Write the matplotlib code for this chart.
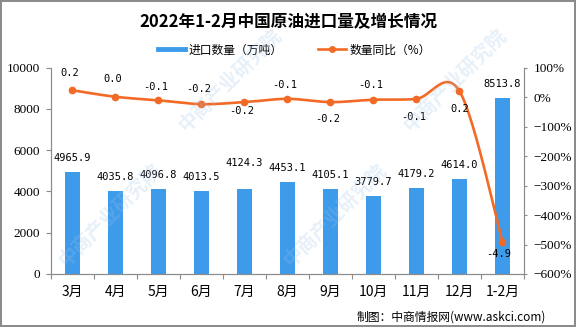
import numpy as np
import matplotlib.pyplot as plt
from matplotlib.lines import Line2D
from matplotlib.ticker import FuncFormatter

plt.rcParams['font.family'] = ['Noto Sans CJK SC', 'DejaVu Sans']

months = ['3月', '4月', '5月', '6月', '7月', '8月', '9月', '10月', '11月', '12月', '1-2月']
volume = [4965.9, 4035.8, 4096.8, 4013.5, 4124.3, 4453.1, 4105.1, 3779.7, 4179.2, 4614.0, 8513.8]
yoy = [0.23, 0.01, -0.11, -0.24, -0.17, -0.06, -0.17, -0.09, -0.06, 0.20, -4.90]

title = '2022年1-2月中国原油进口量及增长情况'
bar_name = '进口数量（万吨）'
line_name = '数量同比（%）'
source = '制图：中商情报网(www.askci.com)'

blue = '#3E9BEA'
orange = '#F26A26'
grey = '#8C8C8C'
PT = 72 / 100.  # px -> pt

# label offsets in px (layout only)
bar_dy = [14, 14, 14, 14, 25.5, 14, 14, 14, 14, 14, 14]
line_off = [(-3, -17), (-3, -18), (-3, -13), (-3, -15), (-3, 8.5), (-3, -13.5),
            (-3, 16.5), (-3, -14.5), (-3, 18.5), (0, 18), (-4, 12.5)]


def smooth(xv, yv, n=30):
    # catmull-rom, like excel's smoothed line
    p = np.column_stack([xv, yv]).astype(float)
    p = np.vstack([p[0], p, p[-1]])
    t = np.linspace(0, 1, n)[:, None]
    out = []
    for i in range(1, len(p) - 2):
        p0, p1, p2, p3 = p[i - 1], p[i], p[i + 1], p[i + 2]
        seg = 0.5 * (2 * p1 + (-p0 + p2) * t + (2 * p0 - 5 * p1 + 4 * p2 - p3) * t ** 2
                     + (-p0 + 3 * p1 - 3 * p2 + p3) * t ** 3)
        out.append(seg if i == 1 else seg[1:])
    out = np.vstack(out)
    return out[:, 0], out[:, 1]


fig = plt.figure(figsize=(5.76, 3.27), dpi=100)
fig.patch.set_edgecolor(grey)
fig.patch.set_linewidth(1.5)

ax = fig.add_axes([51 / 576, 1 - 274 / 327, (524 - 51) / 576, (274 - 67.6) / 327])
x = np.arange(len(months))
ax.bar(x, volume, width=0.35, color=blue, zorder=2)
ax.set_xlim(-0.5, len(months) - 0.5)
ax.set_ylim(0, 10000)
ax.set_yticks(np.arange(0, 10001, 2000))
ax.set_xticks(x)
ax.set_xticklabels(months, fontsize=10)
ax.set_xticks(np.arange(-0.5, len(months), 1), minor=True)
ax.tick_params(axis='x', which='major', length=0, pad=8)
ax.tick_params(axis='x', which='minor', length=3.6, color=grey, width=0.8)
ax.tick_params(axis='y', length=3.6, color=grey, width=0.8, pad=4.3, labelsize=9.5)
for lab in ax.get_yticklabels():
    lab.set_fontfamily('Liberation Serif')

for i, v in enumerate(volume):
    ax.annotate(f'{v:.1f}', (i, v), xytext=(0, bar_dy[i] * PT), textcoords='offset points',
                ha='center', va='center', fontsize=7.5, fontfamily='DejaVu Sans Mono')

ax2 = ax.twinx()
ax2.set_ylim(-6, 1)
ax2.set_yticks(np.arange(-6, 1.01, 1))
ax2.yaxis.set_major_formatter(FuncFormatter(lambda v, p: f'{v * 100:.0f}%'.replace('-', '\u2212')))
ax2.tick_params(axis='y', length=2.5, color=grey, width=0.8, pad=4.3, labelsize=9.5)
for lab in ax2.get_yticklabels():
    lab.set_fontfamily('Liberation Serif')

sx, sy = smooth(x, yoy)
ax2.plot(sx, sy, color=orange, lw=1.9, solid_capstyle='round', zorder=3)
ax2.plot(x, yoy, 'o', color=orange, ms=4.5, zorder=4)
for i, v in enumerate(yoy):
    dx, dy = line_off[i]
    ax2.annotate(f'{v:.1f}', (i, v), xytext=(dx * PT, -dy * PT), textcoords='offset points',
                 ha='center', va='center', fontsize=7.5, fontfamily='DejaVu Sans Mono')

for a in (ax, ax2):
    a.spines['top'].set_visible(False)
    for s in ('left', 'right', 'bottom'):
        a.spines[s].set_color(grey)
        a.spines[s].set_linewidth(0.8)

fig.text(0.5, 1 - 21.7 / 327, title, ha='center', va='center', fontsize=12, fontweight='bold')

handles = [Line2D([], [], color=blue, lw=3.5),
           Line2D([], [], color=orange, lw=1.9, marker='o', ms=4)]
fig.legend(handles, [bar_name, line_name], loc='center', bbox_to_anchor=(0.511, 1 - 50 / 327),
           ncol=2, frameon=False, fontsize=8.5, handlelength=2.3, handletextpad=0.3, columnspacing=3)

fig.text(356.7 / 576, 1 - 317.3 / 327, source, ha='left', va='center', fontsize=8.5)

# faint watermark, kept inside the picture
wm = '中商产业研究院'
for cx, cy in [(110, 215), (335, 215), (230, 80), (455, 80)]:
    fig.text(cx / 576, 1 - cy / 327, wm, rotation=45, ha='center', va='center', fontsize=14,
             fontweight='bold', color='#9cc3ea', alpha=0.25, zorder=10)

fig.savefig('out.png', dpi=100)
